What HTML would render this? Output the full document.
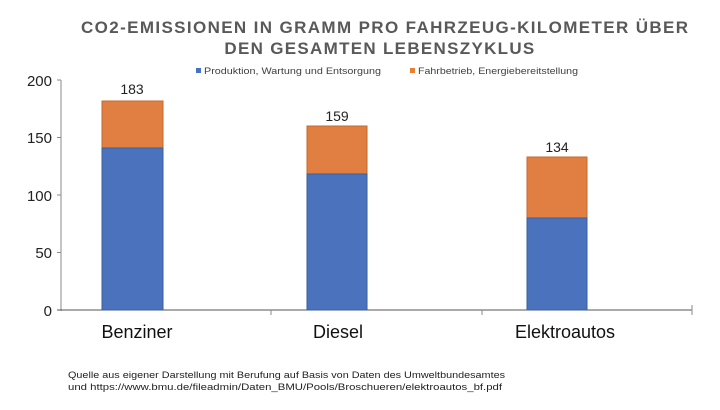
<!DOCTYPE html>
<html><head><meta charset="utf-8"><style>
body{margin:0;width:720px;height:405px;background:#fff;overflow:hidden}
</style></head><body>
<svg width="720" height="405" xmlns="http://www.w3.org/2000/svg" font-family="Liberation Sans, sans-serif">
<text x="81" y="33" font-size="17" font-weight="bold" fill="#595959" textLength="607" lengthAdjust="spacing">CO2-EMISSIONEN IN GRAMM PRO FAHRZEUG-KILOMETER ÜBER</text>
<text x="380" y="54" text-anchor="middle" font-size="17" font-weight="bold" fill="#595959" letter-spacing="1.3">DEN GESAMTEN LEBENSZYKLUS</text>
<rect x="196" y="68" width="5" height="5" fill="#4472c4"/>
<text x="204" y="74" font-size="9.5" fill="#404040" textLength="177" lengthAdjust="spacingAndGlyphs">Produktion, Wartung und Entsorgung</text>
<rect x="410" y="68" width="5" height="5" fill="#ed7d31"/>
<text x="418" y="74" font-size="9.5" fill="#404040" textLength="160" lengthAdjust="spacingAndGlyphs">Fahrbetrieb, Energiebereitstellung</text>
<g stroke="#888" stroke-width="1">
<line x1="61" y1="80" x2="61" y2="311"/>
<line x1="57" y1="80" x2="61" y2="80"/><line x1="57" y1="137.5" x2="61" y2="137.5"/>
<line x1="57" y1="195" x2="61" y2="195"/><line x1="57" y1="252.5" x2="61" y2="252.5"/>
<line x1="57" y1="310" x2="692" y2="310" stroke="#555"/>
<line x1="271" y1="310" x2="271" y2="315"/><line x1="482" y1="310" x2="482" y2="315"/><line x1="692" y1="305" x2="692" y2="315"/>
</g>
<g font-size="15" fill="#222" text-anchor="end">
<text x="52" y="86">200</text><text x="52" y="143">150</text><text x="52" y="201">100</text><text x="52" y="258">50</text><text x="52" y="316">0</text>
</g>
<g stroke-width="1">
<rect x="102" y="101" width="61" height="47" fill="#e07f41" stroke="#c46a2e"/>
<rect x="102" y="148" width="61" height="162" fill="#4a72bd" stroke="#3a5e9e"/>
<rect x="307" y="126" width="60" height="48" fill="#e07f41" stroke="#c46a2e"/>
<rect x="307" y="174" width="60" height="136" fill="#4a72bd" stroke="#3a5e9e"/>
<rect x="527" y="157" width="60" height="61" fill="#e07f41" stroke="#c46a2e"/>
<rect x="527" y="218" width="60" height="92" fill="#4a72bd" stroke="#3a5e9e"/>
</g>
<g font-size="14" fill="#222" text-anchor="middle">
<text x="132" y="94">183</text><text x="337" y="121">159</text><text x="557" y="152">134</text>
</g>
<g font-size="18" fill="#111" text-anchor="middle">
<text x="137" y="338">Benziner</text><text x="338" y="338">Diesel</text><text x="565" y="338">Elektroautos</text>
</g>
<text x="68" y="378" font-size="9" fill="#222" textLength="437" lengthAdjust="spacingAndGlyphs">Quelle aus eigener Darstellung mit Berufung auf Basis von Daten des Umweltbundesamtes</text>
<text x="68" y="390" font-size="9" fill="#222" textLength="434" lengthAdjust="spacingAndGlyphs">und https://www.bmu.de/fileadmin/Daten_BMU/Pools/Broschueren/elektroautos_bf.pdf</text>
</svg>
</body></html>
